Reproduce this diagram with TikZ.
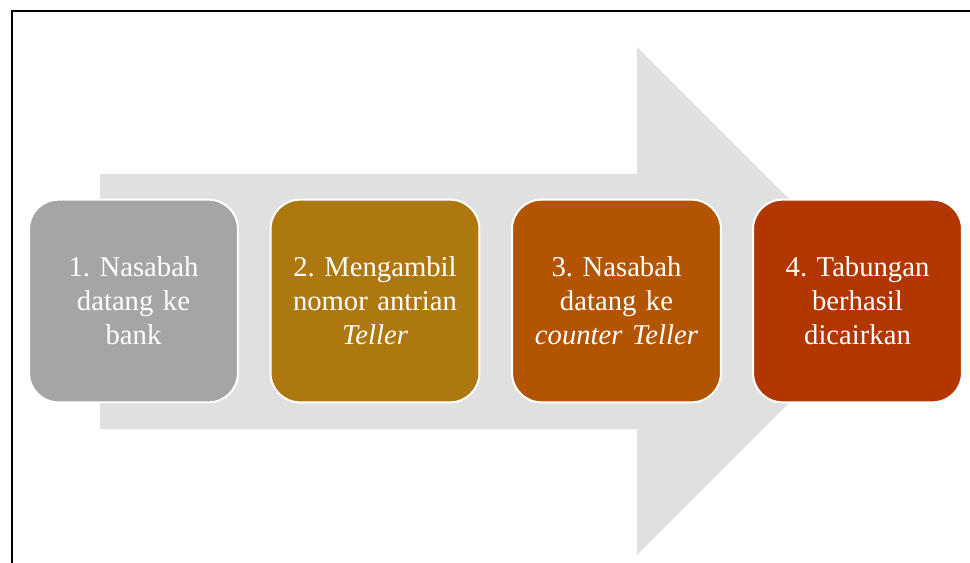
\documentclass[tikz,border=0pt]{standalone}
\usepackage{fontspec}
\setmainfont{Liberation Serif}
\frenchspacing
\usetikzlibrary{calc}

\definecolor{arrowgray}{HTML}{E0E0E0}
\definecolor{stepgray}{HTML}{A5A5A5}
\definecolor{stepgold}{HTML}{AD780F}
\definecolor{steporange}{HTML}{B25400}
\definecolor{stepred}{HTML}{B23600}

\begin{document}
\begin{tikzpicture}[x=0.75pt, y=-0.75pt,
                    stepbox/.style={rectangle, rounded corners=22pt, draw=white, line width=1.5pt,
                                    minimum width=155pt, minimum height=152pt, text width=150pt,
                                    align=center, text=white, font=\fontsize{21.5}{25.5}\selectfont},
                    bigarrow/.style={fill=arrowgray, draw=none}]

            \useasboundingbox (0,0) rectangle (970,563);
            \draw[line width=1.9pt] (12,11) rectangle (990,590);

            % background arrow
            \fill[bigarrow] (100,174) -- (637,174) -- (637,47) -- (891,301)
                            -- (637,555) -- (637,429) -- (100,429) -- cycle;

            \node[stepbox, fill=stepgray]   (s1) at (133.5,301) {1. Nasabah\\datang ke\\bank};
            \node[stepbox, fill=stepgold]   (s2) at (375,301)   {2. Mengambil\\nomor antrian\\\textit{Teller}};
            \node[stepbox, fill=steporange] (s3) at (616.5,301) {3. Nasabah\\datang ke\\\textit{counter Teller}};
            \node[stepbox, fill=stepred]    (s4) at (857.5,301) {4. Tabungan\\berhasil\\dicairkan};
        \end{tikzpicture}
\end{document}
